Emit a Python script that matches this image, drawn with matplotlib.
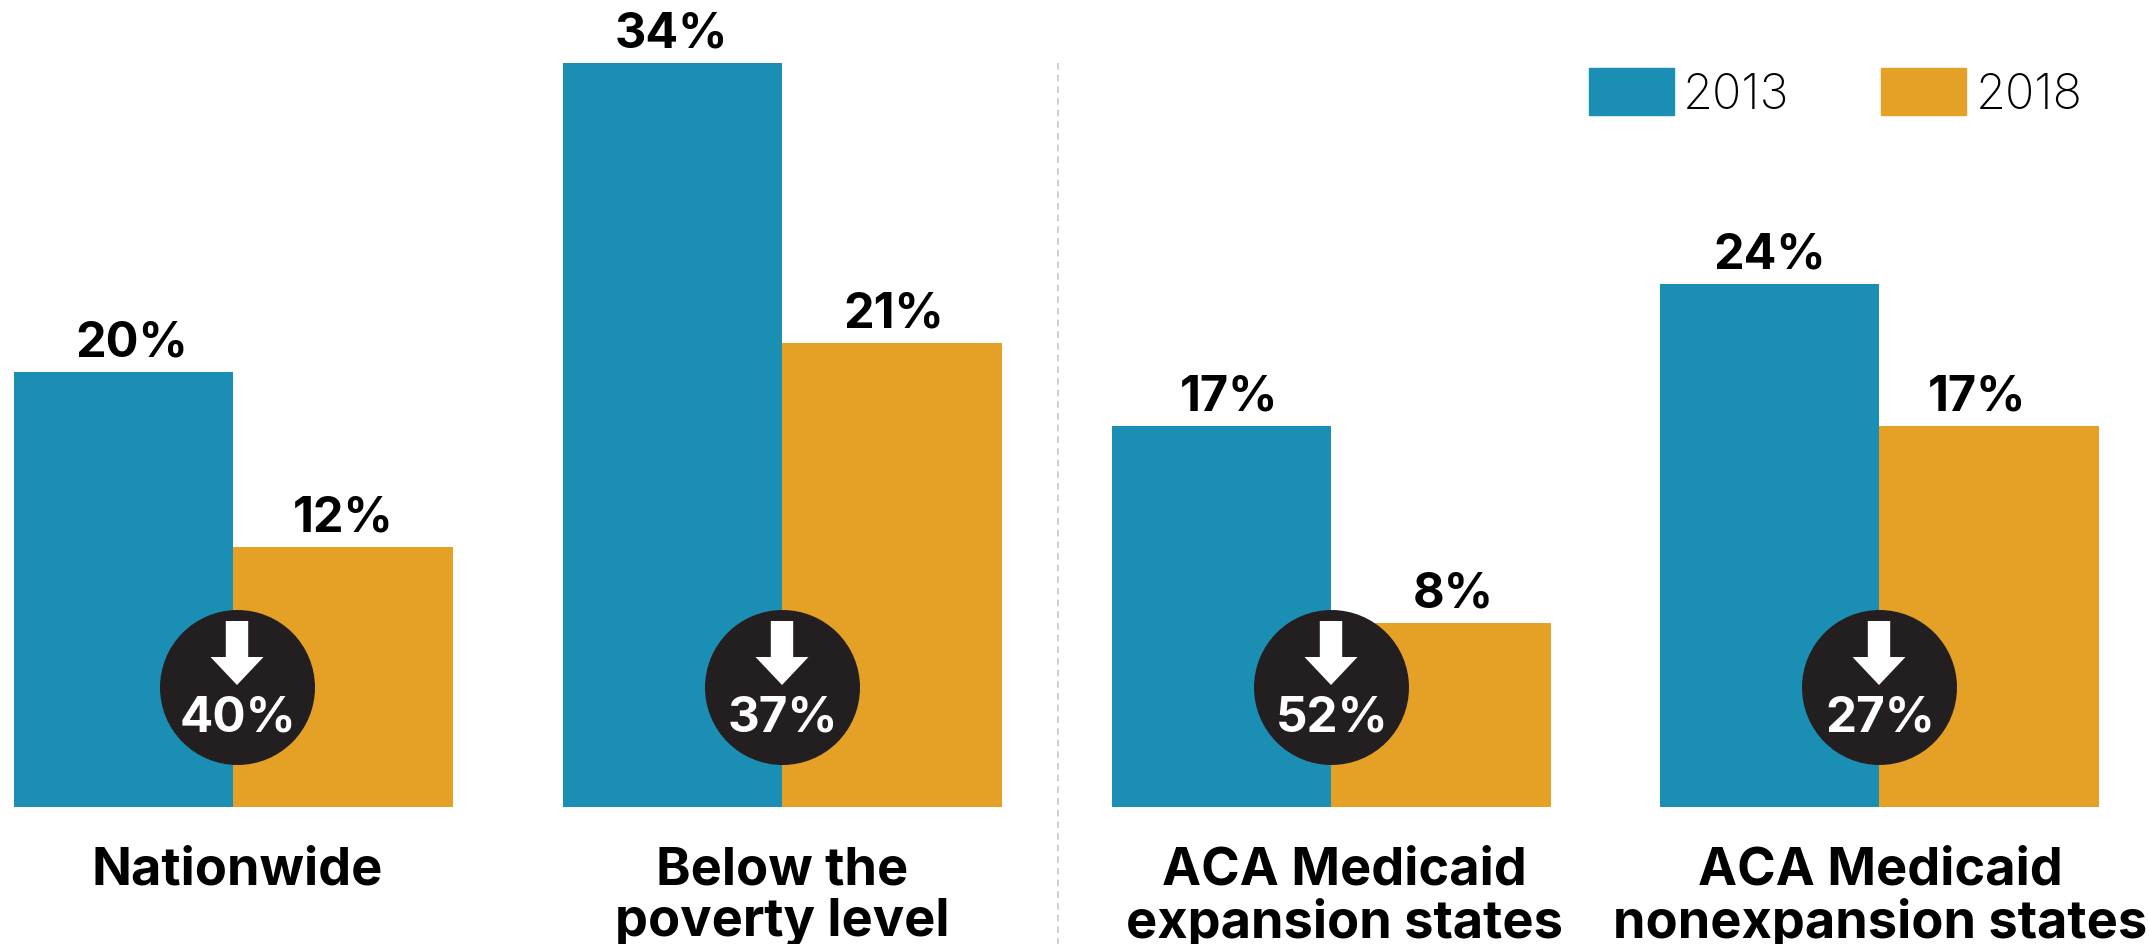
import matplotlib
matplotlib.use("Agg")
import matplotlib.pyplot as plt
from matplotlib.patches import Patch, Polygon

categories = ["Nationwide", "Below the\npoverty level", "ACA Medicaid\nexpansion states", "ACA Medicaid\nnonexpansion states"]
values_2013 = [19.9, 34.0, 17.4, 23.9]
values_2018 = [11.9, 21.2, 8.4, 17.4]
labels_2013 = ["20%", "34%", "17%", "24%"]
labels_2018 = ["12%", "21%", "8%", "17%"]
changes = ["40%", "37%", "52%", "27%"]
series_names = ["2013", "2018"]

W, H = 2149, 945
BASE = 808
PX = 21.88
BLUE, ORANGE, DARK = "#1a8fb3", "#e4a125", "#231f20"
FONT = "Inter"

centers = [233, 782, 1331, 1879]
badge_x = [237, 782, 1331, 1879]
label_x = [237, 782, 1344, 1880]
text_x_2013 = [132, 671, 1229.5, 1770]
text_x_2018 = [343.5, 894, 1453.5, 1977]
bar_w = 219.5

fig = plt.figure(figsize=(W / 100, H / 100), dpi=100, facecolor="white")
ax = fig.add_axes([0, 0, 1, 1])
ax.set_xlim(0, W)
ax.set_ylim(-(H - BASE) / PX, BASE / PX)
ax.axis("off")

def py(pixel_y):
    return (BASE - pixel_y) / PX

ax.bar([c - bar_w / 2 for c in centers], values_2013, bar_w, color=BLUE, zorder=2)
ax.bar([c + bar_w / 2 for c in centers], values_2018, bar_w, color=ORANGE, zorder=2)

gap = 16.5 / PX
for x, v, s in zip(text_x_2013, values_2013, labels_2013):
    ax.text(x, v + gap, s, ha="center", va="baseline", fontsize=35, fontweight="bold", family=FONT, color="black")
for x, v, s in zip(text_x_2018, values_2018, labels_2018):
    ax.text(x, v + gap, s, ha="center", va="baseline", fontsize=35, fontweight="bold", family=FONT, color="black")

d_pt = 155 * 72 / 100
ax.scatter(badge_x, [py(688)] * 4, s=d_pt ** 2, color=DARK, linewidths=0, zorder=3)
for x, s in zip(badge_x, changes):
    pts = [(x - 11.2, 622), (x + 11.2, 622), (x + 11.2, 658), (x + 26.5, 658), (x, 686), (x - 26.5, 658), (x - 11.2, 658)]
    ax.add_patch(Polygon([(a, py(b)) for a, b in pts], closed=True, color="white", lw=0, zorder=4))
    ax.text(x + 1, py(732), s, ha="center", va="baseline", fontsize=35.5, fontweight="bold", family=FONT, color="white", zorder=5)

ax.plot([1058, 1058], [py(64), py(945)], color="#c8c8c8", lw=1.2, ls=(0, (4, 3)), zorder=1)

for x, s in zip(label_x, categories):
    ax.text(x, py(847), s, ha="center", va="top", fontsize=37.7, fontweight="bold", family=FONT,
            color="black", linespacing=1.05, multialignment="center", clip_on=False)

handles = [Patch(color=BLUE, label=series_names[0]), Patch(color=ORANGE, label=series_names[1])]
fs = 35
fs_px = fs * 100 / 72
leg = ax.legend(handles=handles, ncols=2, frameon=False, loc="upper left",
                bbox_to_anchor=(1589 / W, 1 - 68.5 / H), bbox_transform=ax.transAxes,
                borderpad=0, borderaxespad=0, handlelength=85 / fs_px, handleheight=55 / fs_px,
                handletextpad=9 / fs_px, columnspacing=92 / fs_px,
                prop={"family": FONT, "size": fs, "weight": "light"})
fig.savefig("out.png", dpi=100, facecolor="white")
